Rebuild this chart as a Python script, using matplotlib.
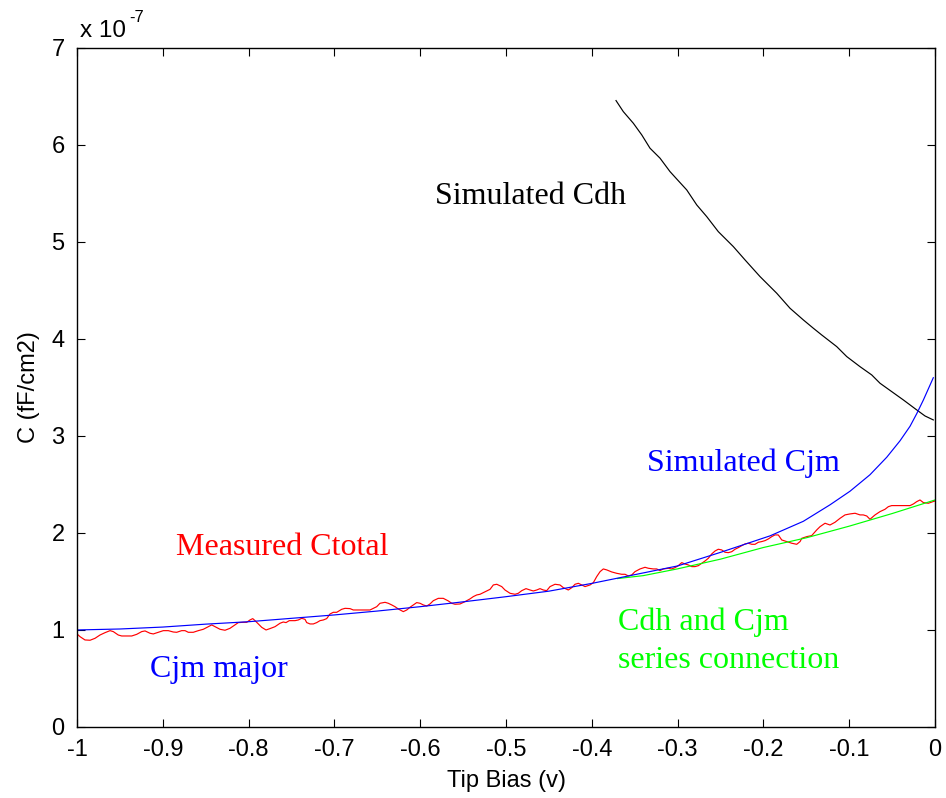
import numpy as np
import matplotlib
matplotlib.use("Agg")
import matplotlib.pyplot as plt
from matplotlib.ticker import FuncFormatter

SCALE = 1e-7  # capacitance values below are in units of 1e-7 fF/cm2

# Simulated junction capacitance Cjm (blue)
cjm_v = [-1.00, -0.95, -0.90, -0.85, -0.80, -0.75, -0.70, -0.65, -0.60, -0.55,
         -0.50, -0.45, -0.40, -0.35, -0.30, -0.25, -0.1923, -0.1535, -0.1224,
         -0.0991, -0.0758, -0.0563, -0.0408, -0.0291, -0.0213, -0.0136, -0.0020]
cjm_c = [1.00, 1.01, 1.03, 1.06, 1.085, 1.12, 1.155, 1.195, 1.24, 1.29,
         1.343, 1.40, 1.48, 1.57, 1.66, 1.80, 1.97, 2.12, 2.29,
         2.43, 2.60, 2.78, 2.95, 3.10, 3.23, 3.37, 3.60]

# Simulated Cdh (black)
cdh_v = [-0.3718, -0.3633, -0.3516, -0.3418, -0.3322, -0.3205, -0.3089, -0.3011,
         -0.2894, -0.2777, -0.2661, -0.2526, -0.2351, -0.2214, -0.2040, -0.1845,
         -0.1690, -0.1535, -0.1418, -0.1321, -0.1146, -0.1029, -0.0874, -0.0738,
         -0.0641, -0.0505, -0.0369, -0.0213, -0.0117, -0.0020]
cdh_c = [6.457, 6.343, 6.223, 6.103, 5.966, 5.863, 5.725, 5.649,
         5.536, 5.381, 5.261, 5.106, 4.952, 4.814, 4.643, 4.471,
         4.316, 4.196, 4.110, 4.041, 3.921, 3.818, 3.714, 3.629,
         3.543, 3.457, 3.371, 3.268, 3.206, 3.165]

# Cdh and Cjm in series (green)
series_v = [-0.37, -0.34, -0.30, -0.25, -0.20, -0.15, -0.10, -0.05, 0.00]
series_c = [1.53, 1.56, 1.63, 1.73, 1.85, 1.95, 2.07, 2.20, 2.34]

# Measured total capacitance (red): (bias, C) pairs
measured = [
    (-1.0000, 0.959), (-0.9965, 0.931), (-0.9907, 0.897), (-0.9848, 0.894),
    (-0.9790, 0.914), (-0.9732, 0.948), (-0.9674, 0.972), (-0.9615, 0.993),
    (-0.9577, 0.983), (-0.9519, 0.948), (-0.9479, 0.938), (-0.9362, 0.938),
    (-0.9304, 0.955), (-0.9246, 0.983), (-0.9207, 0.990), (-0.9149, 0.966),
    (-0.9111, 0.959), (-0.9052, 0.976), (-0.8994, 0.993), (-0.8936, 0.993),
    (-0.8878, 0.979), (-0.8838, 0.976), (-0.8780, 0.993), (-0.8741, 0.993),
    (-0.8703, 0.976), (-0.8645, 0.976), (-0.8586, 0.993), (-0.8528, 1.007),
    (-0.8470, 1.034), (-0.8430, 1.052), (-0.8392, 1.034), (-0.8333, 1.007),
    (-0.8275, 0.997), (-0.8217, 1.017), (-0.8159, 1.052), (-0.8120, 1.076),
    (-0.8061, 1.079), (-0.8022, 1.079), (-0.7984, 1.103), (-0.7952, 1.117),
    (-0.7925, 1.096), (-0.7887, 1.062), (-0.7847, 1.027), (-0.7797, 1.000),
    (-0.7751, 1.014), (-0.7692, 1.034), (-0.7634, 1.069), (-0.7596, 1.082),
    (-0.7564, 1.076), (-0.7526, 1.096), (-0.7459, 1.096), (-0.7421, 1.103),
    (-0.7381, 1.120), (-0.7343, 1.110), (-0.7323, 1.076), (-0.7284, 1.062),
    (-0.7246, 1.062), (-0.7206, 1.076), (-0.7168, 1.096), (-0.7129, 1.103),
    (-0.7090, 1.117), (-0.7051, 1.165), (-0.7013, 1.182), (-0.6973, 1.182),
    (-0.6915, 1.213), (-0.6876, 1.223), (-0.6818, 1.220), (-0.6780, 1.206),
    (-0.6702, 1.206), (-0.6585, 1.206), (-0.6547, 1.223), (-0.6507, 1.240),
    (-0.6469, 1.275), (-0.6410, 1.285), (-0.6372, 1.275), (-0.6332, 1.258),
    (-0.6294, 1.240), (-0.6255, 1.216), (-0.6197, 1.189), (-0.6157, 1.206),
    (-0.6119, 1.234), (-0.6080, 1.258), (-0.6041, 1.282), (-0.6002, 1.275),
    (-0.5964, 1.258), (-0.5924, 1.247), (-0.5886, 1.268), (-0.5847, 1.302),
    (-0.5789, 1.326), (-0.5731, 1.326), (-0.5672, 1.299), (-0.5633, 1.275),
    (-0.5594, 1.265), (-0.5536, 1.268), (-0.5478, 1.292), (-0.5420, 1.320),
    (-0.5381, 1.344), (-0.5341, 1.361), (-0.5303, 1.368), (-0.5265, 1.385),
    (-0.5225, 1.402), (-0.5186, 1.419), (-0.5148, 1.464), (-0.5108, 1.471),
    (-0.5050, 1.447), (-0.5012, 1.412), (-0.4953, 1.378), (-0.4895, 1.368),
    (-0.4857, 1.378), (-0.4817, 1.405), (-0.4767, 1.426), (-0.4720, 1.412),
    (-0.4682, 1.402), (-0.4642, 1.412), (-0.4604, 1.426), (-0.4565, 1.412),
    (-0.4526, 1.405), (-0.4487, 1.447), (-0.4429, 1.471), (-0.4371, 1.464),
    (-0.4332, 1.436), (-0.4274, 1.412), (-0.4234, 1.436), (-0.4196, 1.471),
    (-0.4157, 1.481), (-0.4118, 1.464), (-0.4079, 1.447), (-0.4021, 1.464),
    (-0.3982, 1.488), (-0.3943, 1.550), (-0.3904, 1.601), (-0.3866, 1.629),
    (-0.3826, 1.619), (-0.3768, 1.598), (-0.3710, 1.584), (-0.3652, 1.574),
    (-0.3613, 1.574), (-0.3575, 1.557), (-0.3535, 1.567), (-0.3497, 1.601),
    (-0.3438, 1.629), (-0.3380, 1.646), (-0.3341, 1.636), (-0.3283, 1.629),
    (-0.3244, 1.629), (-0.3205, 1.612), (-0.3167, 1.629), (-0.3108, 1.636),
    (-0.3069, 1.629), (-0.3030, 1.643), (-0.2992, 1.663), (-0.2952, 1.694),
    (-0.2914, 1.680), (-0.2875, 1.670), (-0.2835, 1.653), (-0.2797, 1.653),
    (-0.2758, 1.663), (-0.2719, 1.687), (-0.2681, 1.711), (-0.2642, 1.739),
    (-0.2602, 1.784), (-0.2564, 1.814), (-0.2526, 1.832), (-0.2486, 1.825),
    (-0.2448, 1.801), (-0.2409, 1.797), (-0.2369, 1.807), (-0.2331, 1.832),
    (-0.2292, 1.849), (-0.2253, 1.869), (-0.2214, 1.887), (-0.2176, 1.894),
    (-0.2136, 1.883), (-0.2098, 1.883), (-0.2059, 1.904), (-0.2020, 1.911),
    (-0.1981, 1.921), (-0.1943, 1.938), (-0.1903, 1.962), (-0.1865, 1.980),
    (-0.1826, 1.979), (-0.1787, 1.928), (-0.1728, 1.911), (-0.1670, 1.894),
    (-0.1612, 1.883), (-0.1573, 1.911), (-0.1553, 1.945), (-0.1495, 1.962),
    (-0.1437, 1.973), (-0.1379, 2.031), (-0.1340, 2.065), (-0.1282, 2.100),
    (-0.1224, 2.082), (-0.1166, 2.110), (-0.1107, 2.151), (-0.1049, 2.186),
    (-0.0991, 2.196), (-0.0932, 2.203), (-0.0874, 2.186), (-0.0836, 2.186),
    (-0.0796, 2.175), (-0.0758, 2.141), (-0.0699, 2.186), (-0.0641, 2.220),
    (-0.0583, 2.244), (-0.0544, 2.271), (-0.0505, 2.282), (-0.0446, 2.282),
    (-0.0369, 2.282), (-0.0291, 2.282), (-0.0252, 2.299), (-0.0213, 2.323),
    (-0.0175, 2.340), (-0.0136, 2.313), (-0.0078, 2.306), (-0.0020, 2.323),
    (0.0000, 2.330),
]

x_ticks = [-1, -0.9, -0.8, -0.7, -0.6, -0.5, -0.4, -0.3, -0.2, -0.1, 0]
y_ticks = [0, 1, 2, 3, 4, 5, 6, 7]

sans = ["Liberation Sans", "DejaVu Sans"]
serif = ["Liberation Serif", "DejaVu Serif"]
plt.rcParams["font.family"] = sans

fig = plt.figure(figsize=(9.46, 7.98), dpi=100)
ax = fig.add_axes([0.0814, 0.089, 0.907, 0.851])

meas_v, meas_c = zip(*measured)
lw = 0.85
ax.plot(cdh_v, np.array(cdh_c) * SCALE, color="black", lw=lw)
ax.plot(meas_v, np.array(meas_c) * SCALE, color="red", lw=lw)
ax.plot(series_v, np.array(series_c) * SCALE, color="#00ff00", lw=lw)
ax.plot(cjm_v, np.array(cjm_c) * SCALE, color="blue", lw=lw)

ax.set_xlim(-1, 0)
ax.set_ylim(0, 7 * SCALE)
ax.set_xticks(x_ticks)
ax.set_yticks(np.array(y_ticks) * SCALE)
ax.xaxis.set_major_formatter(FuncFormatter(lambda v, p: f"{v:g}"))
ax.yaxis.set_major_formatter(FuncFormatter(lambda v, p: f"{round(v / SCALE):d}"))
ax.tick_params(direction="in", length=6, width=0.8, labelsize=17,
               top=True, right=True, pad=9)
for s in ax.spines.values():
    s.set_linewidth(1.0)

ax.set_xlabel("Tip Bias (v)", fontsize=17, labelpad=6)
ax.set_ylabel("C (fF/cm2)", fontsize=17, labelpad=8)

# exponent marker above the y axis
fig.text(80 / 946, 1 - 37 / 798, "x 10", fontsize=17.5, ha="left", va="baseline")
fig.text(129 / 946, 1 - 22 / 798, "-7", fontsize=12, ha="left", va="baseline")

# curve annotations
ax.text(-0.583, 5.47 * SCALE, "Simulated Cdh", color="black", fontsize=23,
        family=serif, ha="left", va="center")
ax.text(-0.3357, 2.72 * SCALE, "Simulated Cjm", color="blue", fontsize=23,
        family=serif, ha="left", va="center")
ax.text(-0.8846, 1.845 * SCALE, "Measured Ctotal", color="red", fontsize=23,
        family=serif, ha="left", va="center")
ax.text(-0.9149, 0.588 * SCALE, "Cjm major", color="blue", fontsize=23,
        family=serif, ha="left", va="center")
ax.text(-0.3695, 1.075 * SCALE, "Cdh and Cjm", color="#00ff00",
        fontsize=23, family=serif, ha="left", va="center")
ax.text(-0.3695, 0.685 * SCALE, "series connection", color="#00ff00",
        fontsize=23, family=serif, ha="left", va="center")

fig.savefig("out.png", dpi=100)
